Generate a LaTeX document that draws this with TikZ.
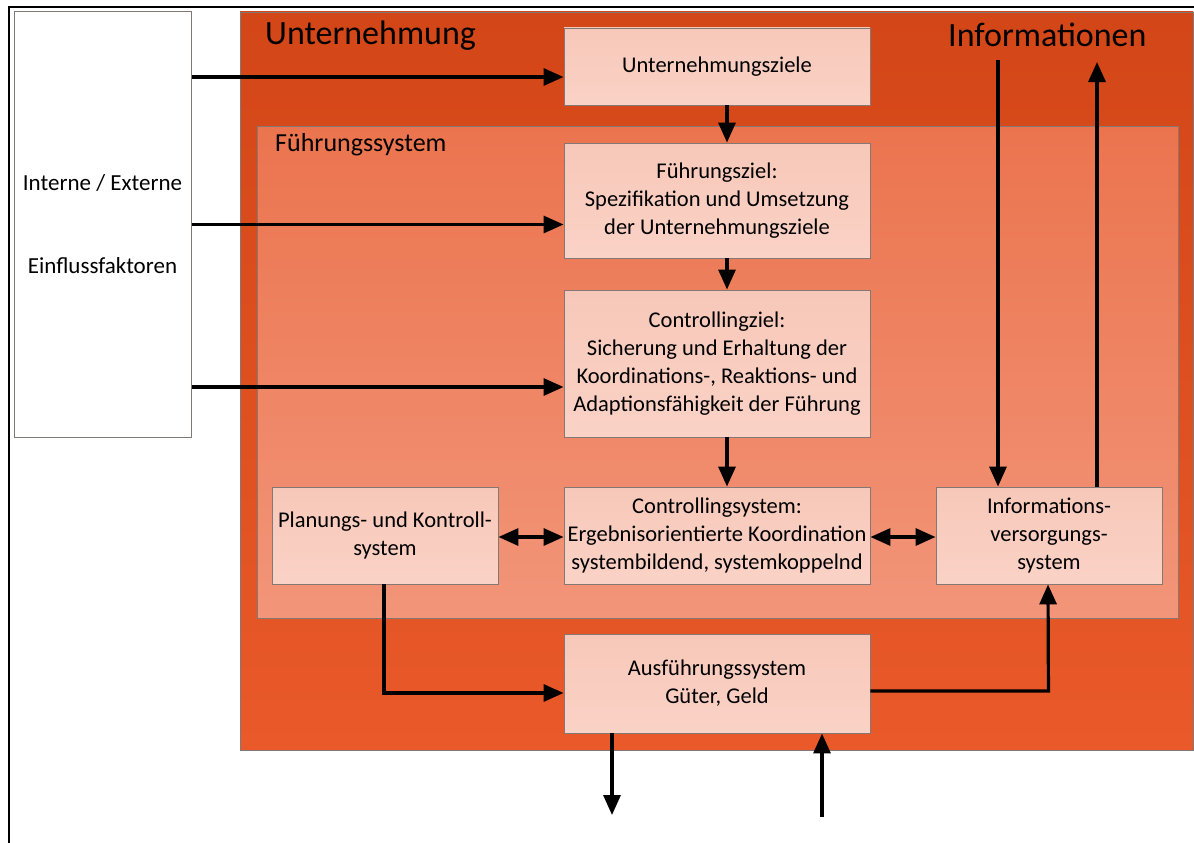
\documentclass[tikz,border=0pt]{standalone}
\usepackage{fontspec}
\setmainfont{Carlito}
\usetikzlibrary{arrows.meta}
\definecolor{untTop}{RGB}{211,70,23}
\definecolor{untBot}{RGB}{233,89,41}
\definecolor{fsTop}{RGB}{235,116,78}
\definecolor{fsBot}{RGB}{242,149,121}
\definecolor{boxTop}{RGB}{247,200,185}
\definecolor{boxBot}{RGB}{250,210,198}
\definecolor{edge}{RGB}{130,120,118}
\tikzset{
  area/.style={draw=edge, line width=0.9pt, rectangle},
  panel/.style={draw=edge, line width=0.9pt, rectangle, top color=boxTop, bottom color=boxBot,
    align=center, font=\fontsize{22.5}{28}\selectfont, inner sep=0pt},
  arr/.style={line width=3.2pt, -{Triangle[length=20pt,width=17pt]}},
  darr/.style={line width=3.2pt, {Triangle[length=20pt,width=17pt]}-{Triangle[length=20pt,width=17pt]}},
  frameline/.style={line width=2.6pt},
}
\begin{document}
\begin{tikzpicture}[x=1pt,y=-1pt]
\useasboundingbox (0,0) rectangle (1194,843);
\fill[white] (0,0) rectangle (1194,843);

% outer frame (top and left edge)
\draw[frameline] (8,7) -- (1194,7);
\draw[frameline] (9,6) -- (9,843);

% enterprise area
\path[area, top color=untTop, bottom color=untBot] (240,12) rectangle (1193,750);
\node[anchor=base west, font=\fontsize{34}{38}\selectfont, inner sep=0pt] (unt) at (265,45) {Unternehmung};
\node[anchor=base west, font=\fontsize{34}{38}\selectfont, inner sep=0pt] (inf) at (948,47) {Informationen};

% management system area
\path[area, top color=fsTop, bottom color=fsBot] (257,126) rectangle (1178,618);
\node[anchor=base west, font=\fontsize{26}{30}\selectfont, inner sep=0pt] (fs) at (275,151) {Führungssystem};

% external factors box
\node[draw=edge, line width=1pt, fill=white, minimum width=177pt, minimum height=425pt,
  align=center, font=\fontsize{23}{28}\selectfont, inner sep=0pt] (ext) at (102.5,224.5)
  {Interne / Externe\\[55pt]Einflussfaktoren};

% boxes
\node[panel, minimum width=306pt, minimum height=77pt] (uz) at (717,66.5) {Unternehmungsziele};
\node[panel, minimum width=306pt, minimum height=115pt] (fz) at (717,200.5)
  {Führungsziel:\\Spezifikation und Umsetzung\\der Unternehmungsziele};
\node[panel, minimum width=306pt, minimum height=147pt] (cz) at (717,363.5)
  {Controllingziel:\\Sicherung und Erhaltung der\\Koordinations-, Reaktions- und\\Adaptionsfähigkeit der Führung};
\node[panel, minimum width=226pt, minimum height=97pt] (pk) at (385,535.5)
  {Planungs- und Kontroll-\\system};
\node[panel, minimum width=306pt, minimum height=97pt] (cs) at (717,535.5)
  {Controllingsystem:\\Ergebnisorientierte Koordination\\systembildend, systemkoppelnd};
\node[panel, minimum width=226pt, minimum height=97pt] (iv) at (1049,535.5)
  {Informations-\\versorgungs-\\system};
\node[panel, minimum width=306pt, minimum height=99pt] (as) at (717,683.5)
  {Ausführungssystem\\Güter, Geld};

% free ends
\coordinate (infin) at (998,60);
\coordinate (infout) at (1097,62);
\coordinate (out) at (612,815);
\coordinate (in) at (822,817);

% connectors
\draw[arr] (ext.east |- uz.west) ++(0,10.5) -- ([yshift=-10.5pt]uz.west);
\draw[arr] (ext.east) -- (fz.west |- ext.east);
\draw[arr] ([yshift=-162.5pt]ext.east) -- (cz.west |- {(0,387)});
\draw[arr] ([xshift=10pt]uz.south) -- ([xshift=10pt]fz.north);
\draw[arr] ([xshift=10pt]fz.south) -- ([xshift=10pt]cz.north);
\draw[arr] ([xshift=10pt]cz.south) -- ([xshift=10pt]cs.north);
\draw[darr] ([yshift=-1.5pt]pk.east) -- ([yshift=-1.5pt]cs.west);
\draw[darr] ([yshift=-1.5pt]cs.east) -- ([yshift=-1.5pt]iv.west);
\draw[arr] (infin) -- (infin |- iv.north);
\draw[arr] ([xshift=48pt]iv.north) -- (infout);
\draw[arr] ([xshift=-1pt]pk.south) |- ([yshift=-9.5pt]as.west);
\draw[arr] ([yshift=-7.5pt]as.east) -- ++(178,0) -- ([xshift=-1pt]iv.south);
\draw[arr] ([xshift=-105pt]as.south) -- (out);
\draw[arr] (in) -- ([xshift=105pt]as.south);
\end{tikzpicture}
\end{document}
